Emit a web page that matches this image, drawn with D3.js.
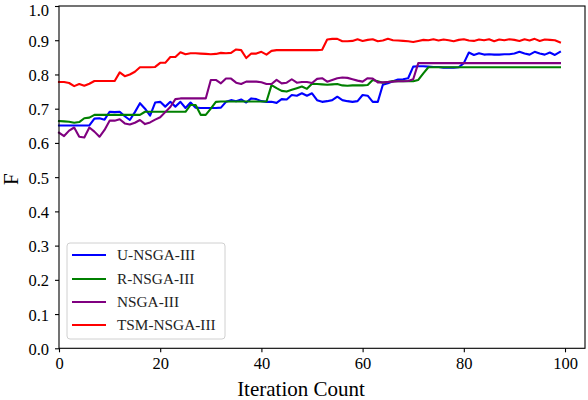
<!DOCTYPE html>
<html><head><meta charset="utf-8">
<script src="https://cdn.jsdelivr.net/npm/d3@7"></script>
<style>body{margin:0;background:#fff}svg{display:block}</style>
</head><body>
<svg id="c" width="588" height="400"></svg>
<script>
const iterations = d3.range(0, 100);
const seriesNames = ["U-NSGA-III", "R-NSGA-III", "NSGA-III", "TSM-NSGA-III"];
const seriesColors = ["#0000ff", "#008000", "#800080", "#ff0000"];

const uNsga = [0.651,0.651,0.651,0.651,0.651,0.651,0.651,0.671,0.672,0.668,
0.691,0.690,0.691,0.678,0.667,0.690,0.716,0.700,0.680,0.718,
0.720,0.706,0.720,0.706,0.720,0.702,0.718,0.703,0.702,0.702,
0.702,0.702,0.703,0.720,0.725,0.722,0.727,0.718,0.730,0.728,
0.722,0.720,0.720,0.717,0.728,0.727,0.740,0.738,0.745,0.738,
0.745,0.725,0.720,0.722,0.725,0.735,0.725,0.722,0.720,0.722,
0.740,0.738,0.720,0.720,0.770,0.774,0.780,0.785,0.786,0.789,
0.823,0.824,0.824,0.823,0.822,0.822,0.820,0.820,0.820,0.821,
0.833,0.864,0.857,0.862,0.858,0.859,0.858,0.858,0.859,0.859,
0.861,0.866,0.861,0.858,0.866,0.861,0.858,0.864,0.857,0.866];

const rNsga = [0.664,0.663,0.662,0.659,0.661,0.672,0.674,0.682,0.682,0.682,
0.682,0.682,0.682,0.682,0.682,0.682,0.682,0.691,0.691,0.691,
0.691,0.691,0.691,0.691,0.691,0.691,0.711,0.711,0.682,0.682,
0.700,0.720,0.721,0.721,0.721,0.721,0.721,0.721,0.721,0.721,
0.721,0.721,0.769,0.760,0.752,0.750,0.755,0.760,0.765,0.758,
0.773,0.772,0.771,0.770,0.771,0.772,0.768,0.767,0.768,0.768,
0.768,0.769,0.784,0.780,0.776,0.778,0.781,0.780,0.780,0.780,
0.780,0.784,0.803,0.821,0.821,0.821,0.821,0.821,0.821,0.821,
0.821,0.821,0.821,0.821,0.821,0.821,0.821,0.821,0.821,0.821,
0.821,0.821,0.821,0.821,0.821,0.821,0.821,0.821,0.821,0.821];

const nsga = [0.630,0.620,0.636,0.645,0.618,0.616,0.645,0.633,0.618,0.638,
0.665,0.665,0.669,0.657,0.654,0.659,0.667,0.655,0.660,0.668,
0.675,0.690,0.705,0.728,0.730,0.730,0.730,0.730,0.730,0.730,
0.784,0.784,0.774,0.788,0.788,0.776,0.772,0.779,0.779,0.779,
0.777,0.772,0.772,0.784,0.774,0.776,0.786,0.776,0.778,0.778,
0.775,0.787,0.789,0.779,0.784,0.789,0.791,0.790,0.786,0.782,
0.779,0.789,0.788,0.777,0.777,0.778,0.779,0.780,0.780,0.781,
0.786,0.833,0.833,0.833,0.833,0.833,0.833,0.833,0.833,0.833,
0.833,0.833,0.833,0.833,0.833,0.833,0.833,0.833,0.833,0.833,
0.833,0.833,0.833,0.833,0.833,0.833,0.833,0.833,0.833,0.833];

const tsmNsga = [0.778,0.778,0.775,0.766,0.772,0.767,0.773,0.781,0.781,0.781,
0.781,0.781,0.806,0.795,0.800,0.808,0.821,0.821,0.821,0.822,
0.834,0.834,0.851,0.851,0.865,0.859,0.862,0.862,0.861,0.860,
0.859,0.860,0.863,0.862,0.863,0.873,0.871,0.848,0.861,0.861,
0.866,0.858,0.869,0.871,0.871,0.871,0.871,0.871,0.871,0.871,
0.871,0.871,0.872,0.902,0.904,0.904,0.897,0.897,0.898,0.903,
0.898,0.901,0.903,0.897,0.899,0.904,0.900,0.899,0.898,0.897,
0.895,0.898,0.901,0.900,0.903,0.899,0.902,0.900,0.897,0.901,
0.903,0.899,0.898,0.902,0.900,0.903,0.897,0.902,0.900,0.903,
0.901,0.898,0.903,0.899,0.904,0.898,0.902,0.901,0.900,0.894];

const allSeries = [uNsga, rNsga, nsga, tsmNsga];
const xTicks = [0, 20, 40, 60, 80, 100];
const yTicks = [0.0,0.1,0.2,0.3,0.4,0.5,0.6,0.7,0.8,0.9,1.0];

const svg = d3.select("#c");
const L = 59, R = 585, T = 6, B = 348.3;
const x = d3.scaleLinear().domain([0, 103.95]).range([L, R]);
const y = d3.scaleLinear().domain([0, 1]).range([B, T]);
const font = "'Liberation Serif','Times New Roman',serif";

const line = d3.line().x((d, i) => x(iterations[i])).y(d => y(d));
allSeries.forEach((s, k) => {
  svg.append("path").datum(s).attr("d", line)
    .attr("fill", "none").attr("stroke", seriesColors[k])
    .attr("stroke-width", 2.1).attr("stroke-linejoin", "round").attr("stroke-linecap", "square");
});

// frame
svg.append("rect").attr("x", L).attr("y", T).attr("width", R - L).attr("height", B - T)
  .attr("fill", "none").attr("stroke", "#000").attr("stroke-width", 1.1);

const xAxis = svg.append("g").attr("transform", `translate(0,${B})`)
  .call(d3.axisBottom(x).tickValues(xTicks).tickFormat(d3.format("d")).tickSize(4).tickPadding(5));
const yAxis = svg.append("g").attr("transform", `translate(${L},0)`)
  .call(d3.axisLeft(y).tickValues(yTicks).tickFormat(d3.format(".1f")).tickSize(4).tickPadding(6));
[xAxis, yAxis].forEach(g => {
  g.select(".domain").remove();
  g.selectAll("line").attr("stroke", "#000").attr("stroke-width", 1.1);
  g.selectAll("text").attr("font-family", font).attr("font-size", 16.5).attr("fill", "#000");
});
yAxis.selectAll("text").attr("dy", d => d === 1 ? "0.55em" : "0.36em");

svg.append("text").attr("x", 301).attr("y", 396).attr("text-anchor", "middle")
  .attr("font-family", font).attr("font-size", 21).text("Iteration Count");
svg.append("text").attr("transform", `translate(18,${(T + B) / 2 + 2}) rotate(-90)`)
  .attr("text-anchor", "middle").attr("font-family", font).attr("font-size", 21).text("F");

// legend
const lg = svg.append("g");
lg.append("rect").attr("x", 67).attr("y", 243).attr("width", 158).attr("height", 96)
  .attr("rx", 3).attr("fill", "#fff").attr("fill-opacity", 0.8)
  .attr("stroke", "#d0d0d0").attr("stroke-width", 1);
const rowY = [255, 279, 302, 325];
seriesNames.forEach((n, k) => {
  lg.append("line").attr("x1", 72).attr("x2", 106).attr("y1", rowY[k]).attr("y2", rowY[k])
    .attr("stroke", seriesColors[k]).attr("stroke-width", 2.1);
  lg.append("text").attr("x", 117).attr("y", rowY[k] + 5).attr("font-family", font)
    .attr("font-size", 15.3).attr("fill", "#222").text(n);
});
</script>
</body></html>
